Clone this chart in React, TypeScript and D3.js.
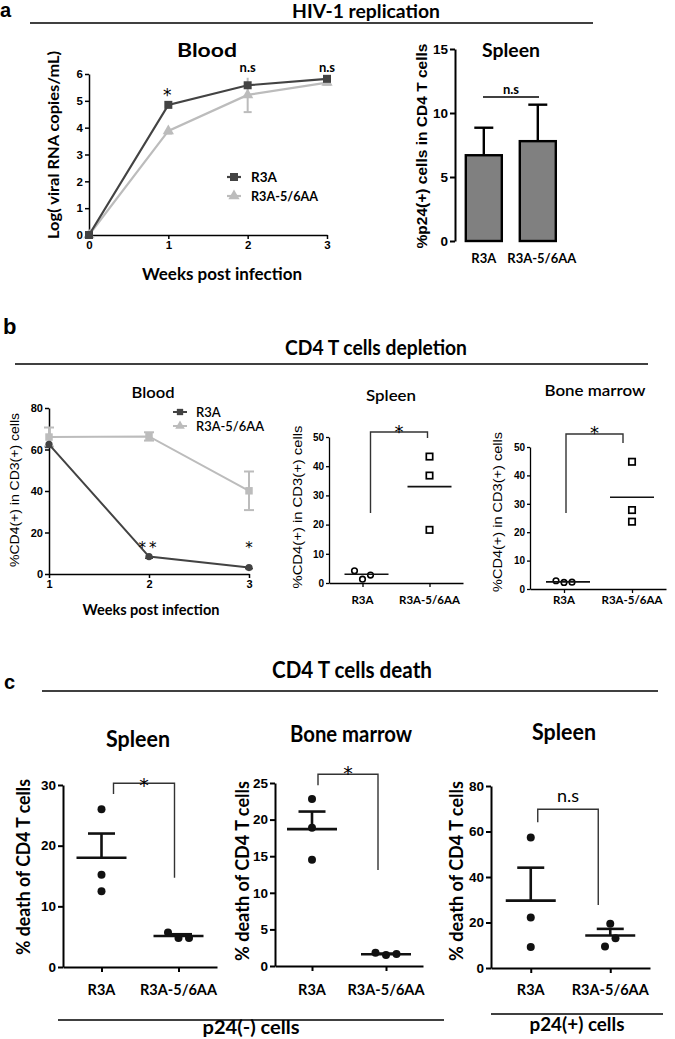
import { useEffect, useRef } from "react";
import * as d3 from "d3";

const LATO = "Lato, 'Open Sans', sans-serif";
const ARIAL = "'Liberation Sans', Arial, sans-serif";
const NARROW = "'Liberation Sans Narrow', 'Liberation Sans', Arial, sans-serif";
const STAR = "'DejaVu Sans', sans-serif";
const DARK = "#434343";
const LIGHT = "#bcbcbc";

// a: HIV-1 replication, blood (log viral RNA copies/mL)
const weeksA = [0, 1, 2, 3];
const virusR3A = [0, 4.85, 5.58, 5.82];
const virusR3AErr = [0.04, 0.08, 0.07, 0.06];
const virusMut = [0, 3.88, 5.22, 5.68];
const virusMutErr = [0.04, 0.1, 0.64, 0.08];
const virusSig = ["", "*", "n.s", "n.s"];

// a: spleen %p24(+) bars
const groups = ["R3A", "R3A-5/6AA"];
const p24Mean = [6.7, 7.8];
const p24Err = [2.15, 2.85];

// b: blood %CD4 over weeks
const weeksB = [1, 2, 3];
const cd4R3A = [62.5, 8.4, 3.1];
const cd4R3AErr = [1.5, 0.8, 0.5];
const cd4Mut = [66, 66.3, 40.1];
const cd4MutErr = [4.6, 2.0, 9.3];
const cd4Sig = ["", "**", "*"];

// b: spleen / bone marrow scatter
const spleenCD4 = [[4.2, 1.3, 2.7], [43.3, 36.8, 18.2]];
const spleenCD4Mean = [3.0, 33.0];
const spleenCD4Bracket = [51.7, 24, 49.7];
const boneCD4 = [[2.9, 2.3, 2.4], [44.8, 27.8, 23.7]];
const boneCD4Mean = [2.5, 32.3];
const boneCD4Bracket = [54.6, 26.8, 51.4];

// c: % death of CD4 T cells
const spleenNeg = [[26.0, 15.2, 12.5], [5.7, 4.8, 4.8]];
const spleenNegMean = [18.0, 5.1];
const spleenNegSem = [4.0, 0.3];
const spleenNegBracket = [30.3, 28.5, 14.7];
const boneNeg = [[22.8, 18.9, 14.5], [1.8, 1.5, 1.65]];
const boneNegMean = [18.7, 1.6];
const boneNegSem = [2.4, 0.1];
const boneNegBracket = [26.2, 24.7, 13.1];
const spleenPos = [[57.4, 22.2, 9.2], [19.5, 9.5, 13.1]];
const spleenPosMean = [29.6, 14.3];
const spleenPosSem = [14.5, 2.9];
const spleenPosBracket = [69.8, 64.1, 27.7];

const Axis = ({ orient, scale, x = 0, y = 0, ticks, font, size, bold = true, tick = 4, width = 1.5, pad = 2, labels = true }: any) => {
  const ref = useRef<SVGGElement>(null);
  useEffect(() => {
    const axis = (orient === "left" ? d3.axisLeft(scale) : d3.axisBottom(scale))
      .tickSizeInner(tick)
      .tickSizeOuter(0)
      .tickPadding(pad);
    if (ticks) axis.tickValues(ticks).tickFormat(d3.format("d") as any);
    if (!labels) axis.tickFormat(() => "");
    const g = d3.select(ref.current).call(axis as any);
    g.attr("font-family", font).attr("font-size", size).attr("font-weight", bold ? "bold" : "normal");
    g.select(".domain").attr("stroke", "#000").attr("stroke-width", width);
    g.selectAll(".tick line").attr("stroke", "#000").attr("stroke-width", width);
    g.selectAll(".tick text").attr("fill", "#000");
  });
  return <g ref={ref} transform={`translate(${x},${y})`} />;
};

const VLabel = ({ text, cx, cy, font, size, bold = true, len }: any) => (
  <text
    transform={`translate(${cx},${cy}) rotate(-90)`}
    textAnchor="middle"
    dy="0.35em"
    fontFamily={font}
    fontSize={size}
    fontWeight={bold ? "bold" : "normal"}
    textLength={len}
    lengthAdjust="spacingAndGlyphs"
  >
    {text}
  </text>
);

const Title = ({ text, x, y, size, len, weight = "bold" }: any) => (
  <text x={x} y={y} textAnchor="middle" fontFamily={LATO} fontSize={size} fontWeight={weight}
    textLength={len} lengthAdjust="spacingAndGlyphs">
    {text}
  </text>
);

const BloodVirus = () => {
  const x = d3.scaleLinear().domain([0, 3]).range([89, 327]);
  const y = d3.scaleLinear().domain([0, 6]).range([235, 74]);
  const line = d3.line<number>().x((_, i) => x(weeksA[i])).y((d) => y(d));
  const tri = d3.symbol(d3.symbolTriangle, 55)() as string;
  const sq = d3.symbol(d3.symbolSquare, 64)() as string;
  return (
    <g>
      <Title text="Blood" x={207} y={57} size={19} len={60} />
      <Axis orient="left" scale={y} x={89} ticks={d3.range(0, 7)} font={NARROW} size={11.5} />
      <Axis orient="bottom" scale={x} y={235} ticks={weeksA} font={NARROW} size={11.5} />
      {virusMut.map((d, i) => (
        <g key={i} stroke={LIGHT} strokeWidth={2}>
          <line x1={x(weeksA[i])} x2={x(weeksA[i])} y1={y(d - virusMutErr[i])} y2={y(d + virusMutErr[i])} />
          <line x1={x(weeksA[i]) - 4} x2={x(weeksA[i]) + 4} y1={y(d - virusMutErr[i])} y2={y(d - virusMutErr[i])} />
        </g>
      ))}
      <path d={line(virusMut) as string} fill="none" stroke={LIGHT} strokeWidth={2.2} />
      {virusMut.map((d, i) => (
        <path key={i} d={tri} transform={`translate(${x(weeksA[i])},${y(d)})`} fill={LIGHT} />
      ))}
      {virusR3A.map((d, i) => (
        <line key={i} x1={x(weeksA[i])} x2={x(weeksA[i])} y1={y(d - virusR3AErr[i])} y2={y(d + virusR3AErr[i])}
          stroke={DARK} strokeWidth={2} />
      ))}
      <path d={line(virusR3A) as string} fill="none" stroke={DARK} strokeWidth={2.2} />
      {virusR3A.map((d, i) => (
        <path key={i} d={sq} transform={`translate(${x(weeksA[i])},${y(d)})`} fill={DARK} />
      ))}
      {virusSig.map((s, i) =>
        s === "*" ? (
          <text key={i} x={x(weeksA[i]) - 1} y={101} textAnchor="middle" fontFamily={STAR} fontSize={17}>*</text>
        ) : s ? (
          <text key={i} x={x(weeksA[i])} y={72} textAnchor="middle" fontFamily={LATO} fontWeight="bold" fontSize={13}>{s}</text>
        ) : null
      )}
      <g fontFamily={LATO} fontWeight="bold" fontSize={13.5}>
        <line x1={227} x2={241} y1={177} y2={177} stroke={DARK} strokeWidth={2.2} />
        <path d={sq} transform="translate(234,177)" fill={DARK} />
        <text x={251} y={182}>R3A</text>
        <line x1={227} x2={241} y1={196} y2={196} stroke={LIGHT} strokeWidth={2.2} />
        <path d={tri} transform="translate(234,196)" fill={LIGHT} />
        <text x={251} y={201} textLength={67} lengthAdjust="spacingAndGlyphs">R3A-5/6AA</text>
      </g>
      <VLabel text="Log( viral RNA copies/mL)" cx={53} cy={145} font={LATO} size={16} len={188} />
      <Title text="Weeks post infection" x={222} y={280} size={17} len={160} />
    </g>
  );
};

const SpleenBars = () => {
  const x = d3.scaleBand().domain(groups).range([455, 566.6]).paddingInner(0.333).paddingOuter(0.2);
  const y = d3.scaleLinear().domain([0, 15]).range([241, 49]);
  const bw = x.bandwidth();
  return (
    <g>
      <Title text="Spleen" x={511} y={57} size={19} len={58} />
      {p24Mean.map((v, i) => {
        const cx = (x(groups[i]) as number) + bw / 2;
        return (
          <g key={i} stroke="#000" strokeWidth={2.4}>
            <line x1={cx} x2={cx} y1={y(v)} y2={y(v + p24Err[i])} />
            <line x1={cx - 9.5} x2={cx + 9.5} y1={y(v + p24Err[i])} y2={y(v + p24Err[i])} />
            <rect x={x(groups[i])} y={y(v)} width={bw} height={y(0) - y(v)} fill="#808080" />
          </g>
        );
      })}
      <Axis orient="left" scale={y} x={455} ticks={[0, 5, 10, 15]} font={ARIAL} size={13.5} tick={5} width={2} />
      <line x1={483} x2={539} y1={97} y2={97} stroke="#000" strokeWidth={1.5} />
      <text x={511} y={94} textAnchor="middle" fontFamily={LATO} fontWeight="bold" fontSize={13}>n.s</text>
      {groups.map((g, i) => (
        <text key={g} x={(x(g) as number) + bw / 2 + (i ? 4 : 0)} y={263} textAnchor="middle" fontFamily={LATO}
          fontWeight="bold" fontSize={13}>{g}</text>
      ))}
      <VLabel text="%p24(+) cells in CD4 T cells" cx={422} cy={146} font={ARIAL} size={14} len={205} />
    </g>
  );
};

const BloodCD4 = () => {
  const x = d3.scaleLinear().domain([1, 3]).range([49, 249]);
  const y = d3.scaleLinear().domain([0, 80]).range([574, 408]);
  const line = d3.line<number>().x((_, i) => x(weeksB[i])).y((d) => y(d));
  const sq = d3.symbol(d3.symbolSquare, 56)() as string;
  const sqLeg = d3.symbol(d3.symbolSquare, 40)() as string;
  const tri = d3.symbol(d3.symbolTriangle, 40)() as string;
  return (
    <g>
      <Title text="Blood" x={153} y={398} size={16} len={43} weight={600} />
      <Axis orient="left" scale={y} x={49} ticks={d3.range(0, 81, 20)} font={NARROW} size={11} />
      <Axis orient="bottom" scale={x} y={574} ticks={weeksB} font={NARROW} size={11} />
      {cd4Mut.map((d, i) => (
        <g key={i} stroke={LIGHT} strokeWidth={2}>
          <line x1={x(weeksB[i])} x2={x(weeksB[i])} y1={y(d - cd4MutErr[i])} y2={y(d + cd4MutErr[i])} />
          <line x1={x(weeksB[i]) - 5} x2={x(weeksB[i]) + 5} y1={y(d - cd4MutErr[i])} y2={y(d - cd4MutErr[i])} />
          <line x1={x(weeksB[i]) - 5} x2={x(weeksB[i]) + 5} y1={y(d + cd4MutErr[i])} y2={y(d + cd4MutErr[i])} />
        </g>
      ))}
      <path d={line(cd4Mut) as string} fill="none" stroke={LIGHT} strokeWidth={2} />
      {cd4Mut.map((d, i) => (
        <path key={i} d={sq} transform={`translate(${x(weeksB[i])},${y(d)})`} fill={LIGHT} />
      ))}
      {cd4R3A.map((d, i) => (
        <g key={i} stroke={DARK} strokeWidth={1.5}>
          <line x1={x(weeksB[i])} x2={x(weeksB[i])} y1={y(d - cd4R3AErr[i])} y2={y(d + cd4R3AErr[i])} />
          <line x1={x(weeksB[i]) - 4} x2={x(weeksB[i]) + 4} y1={y(d - cd4R3AErr[i])} y2={y(d - cd4R3AErr[i])} />
        </g>
      ))}
      <path d={line(cd4R3A) as string} fill="none" stroke={DARK} strokeWidth={2} />
      {cd4R3A.map((d, i) => (
        <circle key={i} cx={x(weeksB[i])} cy={y(d)} r={3.6} fill={DARK} />
      ))}
      {cd4Sig.map((s, i) =>
        s ? (
          <text key={i} x={x(weeksB[i])} y={553} textAnchor="middle" fontFamily={STAR} fontSize={15}
            letterSpacing={s.length > 1 ? 3 : 0}>{s}</text>
        ) : null
      )}
      <g fontFamily={LATO} fontWeight={600} fontSize={13}>
        <line x1={173} x2={187} y1={412} y2={412} stroke={DARK} strokeWidth={2} />
        <path d={sqLeg} transform="translate(180,412)" fill={DARK} />
        <text x={196} y={416.5}>R3A</text>
        <line x1={173} x2={187} y1={426} y2={426} stroke={LIGHT} strokeWidth={2} />
        <path d={tri} transform="translate(180,426)" fill={LIGHT} />
        <text x={196} y={430.5} textLength={68} lengthAdjust="spacingAndGlyphs">R3A-5/6AA</text>
      </g>
      <VLabel text="%CD4(+) in CD3(+) cells" cx={15} cy={490} font={ARIAL} size={12.5} bold={false} len={154} />
      <Title text="Weeks post infection" x={151} y={615} size={15} len={137} />
    </g>
  );
};

// spread points that sit too close to each other horizontally, in array order
const jitter = (vals: number[], thr: number) => {
  const off = vals.map(() => 0);
  const idx = vals.map((_, i) => i).sort((a, b) => vals[a] - vals[b]);
  let cluster = [idx[0]];
  const flush = () => {
    const c = cluster.slice().sort((a, b) => a - b);
    c.forEach((k, j) => (off[k] = j - (c.length - 1) / 2));
  };
  for (let k = 1; k < idx.length; k++) {
    if (vals[idx[k]] - vals[idx[k - 1]] < thr) cluster.push(idx[k]);
    else {
      flush();
      cluster = [idx[k]];
    }
  }
  flush();
  return off;
};

const DotPanel = (p: any) => {
  const x = d3.scalePoint<string>().domain(groups).range([p.xLeft, p.xRight]).padding(0.5);
  const y = d3.scaleLinear().domain([0, p.yMax]).range([p.y0, p.yTop]);
  const lx = (x(groups[0]) as number) + p.legDx[0];
  const rx = (x(groups[1]) as number) + p.legDx[1];
  const [top, lEnd, rEnd] = p.bracket;
  return (
    <g>
      <Axis orient="left" scale={y} x={p.xLeft} ticks={d3.range(0, p.yMax + 0.001, p.yStep)} font={p.tickFont}
        size={p.tickSize} width={p.axisWidth} tick={p.open ? 3 : 5} />
      <Axis orient="bottom" scale={x} y={p.y0} font={p.tickFont} size={p.tickSize} width={p.axisWidth}
        tick={p.open ? 4 : 5} labels={false} />
      {groups.map((g, gi) => {
        const cx = x(g) as number;
        const offs = jitter(p.values[gi], p.yMax * 0.07);
        const m = p.means[gi];
        return (
          <g key={g}>
            {p.values[gi].map((v: number, i: number) =>
              p.open ? (
                gi === 0 ? (
                  <circle key={i} cx={cx + offs[i] * p.jitterStep} cy={y(v)} r={2.8} fill="#fff" stroke="#000" strokeWidth={1.6} />
                ) : (
                  <rect key={i} x={cx + offs[i] * p.jitterStep - 3.2} y={y(v) - 3.2} width={6.4} height={6.4}
                    fill="#fff" stroke="#000" strokeWidth={1.7} />
                )
              ) : (
                <circle key={i} cx={cx + offs[i] * p.jitterStep} cy={y(v)} r={4} fill="#111" />
              )
            )}
            <line x1={cx - p.meanHalf + (p.open && gi === 0 ? 4 : 0)} x2={cx + p.meanHalf + (p.open && gi === 0 ? 4 : 0)}
              y1={y(m)} y2={y(m)} stroke="#111" strokeWidth={p.markWidth} />
            {p.sems ? (
              <g stroke="#111" strokeWidth={p.markWidth}>
                <line x1={cx} x2={cx} y1={y(m)} y2={y(m + p.sems[gi])} />
                <line x1={cx - p.capHalf} x2={cx + p.capHalf} y1={y(m + p.sems[gi])} y2={y(m + p.sems[gi])} />
              </g>
            ) : null}
            <text x={cx} y={p.catY} textAnchor="middle" fontFamily={LATO} fontWeight="bold" fontSize={p.catSize}>{g}</text>
          </g>
        );
      })}
      <path d={`M${lx},${y(lEnd)}V${y(top)}H${rx}V${y(rEnd)}`} fill="none" stroke="#333" strokeWidth={1.4} />
      <text x={(lx + rx) / 2} y={y(top) + p.sigDy} textAnchor="middle" fontFamily={p.sig === "*" ? STAR : LATO}
        fontSize={p.sigSize}>{p.sig}</text>
    </g>
  );
};

export default function App() {
  useEffect(() => {
    document.body.style.margin = "0";
  }, []);
  const bShared = {
    yMax: 50, yStep: 10, jitterStep: 8, open: true, tickFont: NARROW, tickSize: 10,
    catSize: 11.5, catY: 604, meanHalf: 22, markWidth: 1.6, sig: "*", sigSize: 18, axisWidth: 1.3,
  };
  const cShared = {
    jitterStep: 10.5, open: false, tickFont: ARIAL, tickSize: 13.5, catSize: 14.5, catY: 995,
    meanHalf: 25, capHalf: 13.5, markWidth: 2.6, axisWidth: 2,
  };
  return (
    <svg width={675} height={1039} viewBox="0 0 675 1039" style={{ display: "block", background: "#fff" }}>
      <rect width={675} height={1039} fill="#fff" />

      <text x={0} y={17} fontFamily={ARIAL} fontWeight="bold" fontSize={20}>a</text>
      <Title text="HIV-1 replication" x={366} y={18} size={18.5} len={148} />
      <line x1={30} x2={593} y1={23} y2={23} stroke="#000" strokeWidth={1.4} />
      <BloodVirus />
      <SpleenBars />

      <text x={3} y={334} fontFamily={ARIAL} fontWeight="bold" fontSize={22}>b</text>
      <Title text="CD4 T cells depletion" x={376} y={355} size={20} len={182} />
      <line x1={15} x2={648} y1={364} y2={364} stroke="#000" strokeWidth={1.4} />
      <BloodCD4 />
      <Title text="Spleen" x={391} y={401} size={16} len={50} weight={600} />
      <VLabel text="%CD4(+) in CD3(+) cells" cx={298} cy={507} font={ARIAL} size={12.5} bold={false} len={163} />
      <DotPanel {...bShared} values={spleenCD4} means={spleenCD4Mean} bracket={spleenCD4Bracket}
        y0={583} yTop={437} xLeft={329} xRight={463} legDx={[8, -2]} sigDy={6} />
      <Title text="Bone marrow" x={595} y={396} size={16} len={101} weight={600} />
      <VLabel text="%CD4(+) in CD3(+) cells" cx={498} cy={512} font={ARIAL} size={12.5} bold={false} len={160} />
      <DotPanel {...bShared} values={boneCD4} means={boneCD4Mean} bracket={boneCD4Bracket}
        y0={589} yTop={447} xLeft={530} xRight={666} legDx={[2, -9]} sigDy={5} />

      <text x={4} y={689} fontFamily={ARIAL} fontWeight="bold" fontSize={20}>c</text>
      <Title text="CD4 T cells death" x={352} y={678} size={23} len={160} />
      <line x1={42} x2={658} y1={691} y2={691} stroke="#000" strokeWidth={1.4} />

      <Title text="Spleen" x={138} y={747} size={22} len={64} />
      <VLabel text="% death of CD4 T cells" cx={23} cy={867} font={LATO} size={19} len={176} />
      <DotPanel {...cShared} values={spleenNeg} means={spleenNegMean} sems={spleenNegSem} bracket={spleenNegBracket}
        yMax={30} yStep={10} y0={967} yTop={785} xLeft={63} xRight={217} legDx={[12, -4]} sig="*" sigSize={19} sigDy={8.5} />

      <Title text="Bone marrow" x={351} y={742} size={22} len={122} />
      <VLabel text="% death of CD4 T cells" cx={242} cy={871} font={LATO} size={19} len={180} />
      <DotPanel {...cShared} values={boneNeg} means={boneNegMean} sems={boneNegSem} bracket={boneNegBracket}
        yMax={25} yStep={5} y0={966} yTop={783} xLeft={275} xRight={423} legDx={[6, -8]} sig="*" sigSize={19} sigDy={5.5} />

      <Title text="Spleen" x={564} y={740} size={22} len={64} />
      <VLabel text="% death of CD4 T cells" cx={456} cy={871} font={LATO} size={19} len={180} />
      <DotPanel {...cShared} values={spleenPos} means={spleenPosMean} sems={spleenPosSem} bracket={spleenPosBracket}
        yMax={80} yStep={20} y0={968} yTop={786} xLeft={491} xRight={650} legDx={[7, -12]} sig="n.s" sigSize={18} sigDy={-7} />

      <line x1={58} x2={444} y1={1020} y2={1020} stroke="#000" strokeWidth={1.4} />
      <Title text="p24(-) cells" x={251} y={1034} size={18} len={97} />
      <line x1={491} x2={663} y1={1014} y2={1014} stroke="#000" strokeWidth={1.4} />
      <Title text="p24(+) cells" x={577} y={1031} size={18} len={95} />
    </svg>
  );
}
